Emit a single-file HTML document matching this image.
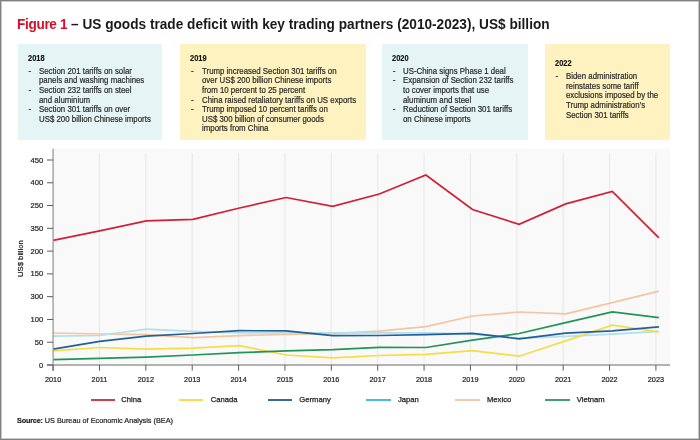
<!DOCTYPE html>
<html><head><meta charset="utf-8">
<style>
*{margin:0;padding:0;box-sizing:border-box}
html,body{width:700px;height:440px;overflow:hidden;background:#fff}
body{position:relative;will-change:transform;font-family:"Liberation Sans",Arial,sans-serif;color:#222}
#frame{position:absolute;left:0;top:0;width:700px;height:440px;border:1px solid #808080;box-shadow:inset 0 0 0 1px #c8c8c8;z-index:10}
.t{position:absolute;white-space:nowrap}
#title{left:16.9px;top:14.38px;font-size:14.2px;font-weight:700;color:#1a1a1a;line-height:20px;transform:scaleX(0.962);transform-origin:0 0}
#title .r{color:#d7102a;letter-spacing:-0.37px}
.box{position:absolute;top:43.6px;height:96.6px}
.blue{background:#e5f4f5}
.yel{background:#fef2c0}
.h{font-size:8.4px;font-weight:700;color:#111;line-height:9.62px;-webkit-text-stroke:0.15px #111;transform:scaleX(0.89);transform-origin:0 0}
.bt,.bl{font-size:8.2px;line-height:9.62px;color:#2a2a2a;-webkit-text-stroke:0.2px #2a2a2a}
.bt{transform:scaleX(0.96);transform-origin:0 0}
.chart{position:absolute;left:0;top:0}
.ax{font-size:6.9px;fill:#222;font-family:"Liberation Sans",Arial,sans-serif}
.ay{font-size:7.6px;stroke:#222;stroke-width:0.2px}
.axx{font-size:7.3px;stroke:#222;stroke-width:0.2px}
.ayt{font-size:7.7px;stroke:#222;stroke-width:0.22px}
.leg{font-size:7.65px;color:#222;line-height:9px;-webkit-text-stroke:0.25px #222}
.legl{position:absolute;top:399.05px;height:1.5px;width:24.4px}
#src{left:17px;top:416.37px;font-size:7.3px;line-height:9px;color:#222;-webkit-text-stroke:0.2px #222}
#src b{letter-spacing:-0.2px}
</style></head><body>
<div id="frame"></div>
<div class="t" id="title"><span class="r">Figure 1</span> – US goods trade deficit with key trading partners (2010-2023), US$ billion</div>
<div class="box blue" style="left:17.5px;width:144.00px"></div>
<div class="h t" style="left:27.6px;top:53.68px">2018</div>
<div class="bl t" style="left:28.6px;top:66.65px">-</div>
<div class="bt t" style="left:39.1px;top:66.65px">Section 201 tariffs on solar</div>
<div class="bt t" style="left:39.1px;top:76.27px">panels and washing machines</div>
<div class="bl t" style="left:28.6px;top:85.89px">-</div>
<div class="bt t" style="left:39.1px;top:85.89px">Section 232 tariffs on steel</div>
<div class="bt t" style="left:39.1px;top:95.51px">and aluminium</div>
<div class="bl t" style="left:28.6px;top:105.13px">-</div>
<div class="bt t" style="left:39.1px;top:105.13px">Section 301 tariffs on over</div>
<div class="bt t" style="left:39.1px;top:114.75px">US$ 200 billion Chinese imports</div>
<div class="box yel" style="left:179.5px;width:186.50px"></div>
<div class="h t" style="left:189.7px;top:53.68px">2019</div>
<div class="bl t" style="left:190.9px;top:66.65px">-</div>
<div class="bt t" style="left:201.7px;top:66.65px">Trump increased Section 301 tariffs on</div>
<div class="bt t" style="left:201.7px;top:76.27px">over US$ 200 billion Chinese imports</div>
<div class="bt t" style="left:201.7px;top:85.89px">from 10 percent to 25 percent</div>
<div class="bl t" style="left:190.9px;top:95.51px">-</div>
<div class="bt t" style="left:201.7px;top:95.51px">China raised retaliatory tariffs on US exports</div>
<div class="bl t" style="left:190.9px;top:105.13px">-</div>
<div class="bt t" style="left:201.7px;top:105.13px">Trump imposed 10 percent tariffs on</div>
<div class="bt t" style="left:201.7px;top:114.75px">US$ 300 billion of consumer goods</div>
<div class="bt t" style="left:201.7px;top:124.37px">imports from China</div>
<div class="box blue" style="left:382px;width:145.50px"></div>
<div class="h t" style="left:392.3px;top:53.68px">2020</div>
<div class="bl t" style="left:392.7px;top:66.65px">-</div>
<div class="bt t" style="left:403.4px;top:66.65px">US-China signs Phase 1 deal</div>
<div class="bl t" style="left:392.7px;top:76.27px">-</div>
<div class="bt t" style="left:403.4px;top:76.27px">Expansion of Section 232 tariffs</div>
<div class="bt t" style="left:403.4px;top:85.89px">to cover imports that use</div>
<div class="bt t" style="left:403.4px;top:95.51px">aluminum and steel</div>
<div class="bl t" style="left:392.7px;top:105.13px">-</div>
<div class="bt t" style="left:403.4px;top:105.13px">Reduction of Section 301 tariffs</div>
<div class="bt t" style="left:403.4px;top:114.75px">on Chinese imports</div>
<div class="box yel" style="left:544.5px;width:125.50px"></div>
<div class="h t" style="left:554.7px;top:58.88px">2022</div>
<div class="bl t" style="left:555.5px;top:72.25px">-</div>
<div class="bt t" style="left:565.9px;top:72.25px">Biden administration</div>
<div class="bt t" style="left:565.9px;top:81.87px">reinstates some tariff</div>
<div class="bt t" style="left:565.9px;top:91.49px">exclusions imposed by the</div>
<div class="bt t" style="left:565.9px;top:101.11px">Trump administration’s</div>
<div class="bt t" style="left:565.9px;top:110.73px">Section 301 tariffs</div>
<svg class="chart" width="700" height="440" viewBox="0 0 700 440">
<rect x="53.5" y="148.5" width="616.5" height="216.5" fill="#f9f9f9"/>
<line x1="99.47" y1="153" x2="99.47" y2="365" stroke="#e8e8e8" stroke-width="1.1"/>
<line x1="145.84" y1="153" x2="145.84" y2="365" stroke="#e8e8e8" stroke-width="1.1"/>
<line x1="192.21" y1="153" x2="192.21" y2="365" stroke="#e8e8e8" stroke-width="1.1"/>
<line x1="238.58" y1="153" x2="238.58" y2="365" stroke="#e8e8e8" stroke-width="1.1"/>
<line x1="284.95" y1="153" x2="284.95" y2="365" stroke="#e8e8e8" stroke-width="1.1"/>
<line x1="331.32" y1="153" x2="331.32" y2="365" stroke="#e8e8e8" stroke-width="1.1"/>
<line x1="377.69" y1="153" x2="377.69" y2="365" stroke="#e8e8e8" stroke-width="1.1"/>
<line x1="424.06" y1="153" x2="424.06" y2="365" stroke="#e8e8e8" stroke-width="1.1"/>
<line x1="470.43" y1="153" x2="470.43" y2="365" stroke="#e8e8e8" stroke-width="1.1"/>
<line x1="516.80" y1="153" x2="516.80" y2="365" stroke="#e8e8e8" stroke-width="1.1"/>
<line x1="563.17" y1="153" x2="563.17" y2="365" stroke="#e8e8e8" stroke-width="1.1"/>
<line x1="609.54" y1="153" x2="609.54" y2="365" stroke="#e8e8e8" stroke-width="1.1"/>
<line x1="655.91" y1="153" x2="655.91" y2="365" stroke="#e8e8e8" stroke-width="1.1"/>
<polyline points="53.10,333.00 99.70,334.00 146.30,334.60 192.90,337.60 239.50,335.70 286.10,334.30 332.70,333.60 379.30,331.10 425.90,326.70 472.50,316.00 519.10,312.00 565.70,313.90 612.30,302.70 658.90,291.10" fill="none" stroke="#f5c4a0" stroke-width="1.7" stroke-linejoin="miter"/>
<polyline points="53.10,336.20 99.70,335.50 146.30,329.20 192.90,331.30 239.50,332.80 286.10,332.80 332.70,332.80 379.30,332.80 425.90,332.90 472.50,334.20 519.10,338.20 565.70,336.40 612.30,334.20 658.90,331.40" fill="none" stroke="#b2dfe9" stroke-width="1.7" stroke-linejoin="miter"/>
<polyline points="53.10,350.90 99.70,347.50 146.30,349.20 192.90,348.20 239.50,345.60 286.10,355.00 332.70,357.80 379.30,355.50 425.90,354.40 472.50,350.60 519.10,356.20 565.70,340.90 612.30,325.10 658.90,331.80" fill="none" stroke="#f7dc45" stroke-width="1.7" stroke-linejoin="miter"/>
<polyline points="53.10,359.70 99.70,358.40 146.30,357.20 192.90,355.00 239.50,352.70 286.10,350.90 332.70,349.70 379.30,347.30 425.90,347.50 472.50,340.20 519.10,333.50 565.70,322.70 612.30,311.80 658.90,317.70" fill="none" stroke="#22945a" stroke-width="1.7" stroke-linejoin="miter"/>
<polyline points="53.10,349.20 99.70,341.30 146.30,336.20 192.90,333.50 239.50,330.70 286.10,330.80 332.70,335.70 379.30,335.50 425.90,334.60 472.50,333.30 519.10,338.80 565.70,333.20 612.30,330.80 658.90,326.80" fill="none" stroke="#22609a" stroke-width="1.7" stroke-linejoin="miter"/>
<polyline points="53.10,240.40 99.70,230.90 146.30,220.90 192.90,219.40 239.50,208.00 286.10,197.50 332.70,206.30 379.30,194.00 425.90,175.00 472.50,209.50 519.10,224.30 565.70,203.90 612.30,191.40 658.90,237.80" fill="none" stroke="#cf2037" stroke-width="1.7" stroke-linejoin="miter"/>
<line x1="53.1" y1="148.8" x2="53.1" y2="371" stroke="#9a9a9a" stroke-width="1.3"/>
<line x1="47" y1="365" x2="670" y2="365" stroke="#9a9a9a" stroke-width="1.3"/>
<line x1="47" y1="160.00" x2="53" y2="160.00" stroke="#5a5a5a" stroke-width="1"/>
<text class="ax ay" x="43.2" y="162.60" text-anchor="end">450</text>
<line x1="47" y1="182.78" x2="53" y2="182.78" stroke="#5a5a5a" stroke-width="1"/>
<text class="ax ay" x="43.2" y="185.38" text-anchor="end">400</text>
<line x1="47" y1="205.56" x2="53" y2="205.56" stroke="#5a5a5a" stroke-width="1"/>
<text class="ax ay" x="43.2" y="208.16" text-anchor="end">250</text>
<line x1="47" y1="228.33" x2="53" y2="228.33" stroke="#5a5a5a" stroke-width="1"/>
<text class="ax ay" x="43.2" y="230.93" text-anchor="end">350</text>
<line x1="47" y1="251.11" x2="53" y2="251.11" stroke="#5a5a5a" stroke-width="1"/>
<text class="ax ay" x="43.2" y="253.71" text-anchor="end">200</text>
<line x1="47" y1="273.89" x2="53" y2="273.89" stroke="#5a5a5a" stroke-width="1"/>
<text class="ax ay" x="43.2" y="276.49" text-anchor="end">150</text>
<line x1="47" y1="296.67" x2="53" y2="296.67" stroke="#5a5a5a" stroke-width="1"/>
<text class="ax ay" x="43.2" y="299.27" text-anchor="end">300</text>
<line x1="47" y1="319.44" x2="53" y2="319.44" stroke="#5a5a5a" stroke-width="1"/>
<text class="ax ay" x="43.2" y="322.04" text-anchor="end">100</text>
<line x1="47" y1="342.22" x2="53" y2="342.22" stroke="#5a5a5a" stroke-width="1"/>
<text class="ax ay" x="43.2" y="344.82" text-anchor="end">50</text>
<line x1="47" y1="365.00" x2="53" y2="365.00" stroke="#5a5a5a" stroke-width="1"/>
<text class="ax ay" x="43.2" y="367.60" text-anchor="end">0</text>
<line x1="53.10" y1="365" x2="53.10" y2="370.6" stroke="#5a5a5a" stroke-width="1"/>
<text class="ax axx" x="53.10" y="382.3" text-anchor="middle">2010</text>
<line x1="99.47" y1="365" x2="99.47" y2="370.6" stroke="#5a5a5a" stroke-width="1"/>
<text class="ax axx" x="99.47" y="382.3" text-anchor="middle">2011</text>
<line x1="145.84" y1="365" x2="145.84" y2="370.6" stroke="#5a5a5a" stroke-width="1"/>
<text class="ax axx" x="145.84" y="382.3" text-anchor="middle">2012</text>
<line x1="192.21" y1="365" x2="192.21" y2="370.6" stroke="#5a5a5a" stroke-width="1"/>
<text class="ax axx" x="192.21" y="382.3" text-anchor="middle">2013</text>
<line x1="238.58" y1="365" x2="238.58" y2="370.6" stroke="#5a5a5a" stroke-width="1"/>
<text class="ax axx" x="238.58" y="382.3" text-anchor="middle">2014</text>
<line x1="284.95" y1="365" x2="284.95" y2="370.6" stroke="#5a5a5a" stroke-width="1"/>
<text class="ax axx" x="284.95" y="382.3" text-anchor="middle">2015</text>
<line x1="331.32" y1="365" x2="331.32" y2="370.6" stroke="#5a5a5a" stroke-width="1"/>
<text class="ax axx" x="331.32" y="382.3" text-anchor="middle">2016</text>
<line x1="377.69" y1="365" x2="377.69" y2="370.6" stroke="#5a5a5a" stroke-width="1"/>
<text class="ax axx" x="377.69" y="382.3" text-anchor="middle">2017</text>
<line x1="424.06" y1="365" x2="424.06" y2="370.6" stroke="#5a5a5a" stroke-width="1"/>
<text class="ax axx" x="424.06" y="382.3" text-anchor="middle">2018</text>
<line x1="470.43" y1="365" x2="470.43" y2="370.6" stroke="#5a5a5a" stroke-width="1"/>
<text class="ax axx" x="470.43" y="382.3" text-anchor="middle">2019</text>
<line x1="516.80" y1="365" x2="516.80" y2="370.6" stroke="#5a5a5a" stroke-width="1"/>
<text class="ax axx" x="516.80" y="382.3" text-anchor="middle">2020</text>
<line x1="563.17" y1="365" x2="563.17" y2="370.6" stroke="#5a5a5a" stroke-width="1"/>
<text class="ax axx" x="563.17" y="382.3" text-anchor="middle">2021</text>
<line x1="609.54" y1="365" x2="609.54" y2="370.6" stroke="#5a5a5a" stroke-width="1"/>
<text class="ax axx" x="609.54" y="382.3" text-anchor="middle">2022</text>
<line x1="655.91" y1="365" x2="655.91" y2="370.6" stroke="#5a5a5a" stroke-width="1"/>
<text class="ax axx" x="655.91" y="382.3" text-anchor="middle">2023</text>
<text class="ax ayt" transform="translate(22.9,258.6) rotate(-90)" text-anchor="middle">US$ billion</text>
</svg>
<div class="legl" style="left:90.6px;background:#d73c4a"></div>
<div class="leg t" style="left:121.3px;top:394.85px">China</div>
<div class="legl" style="left:178.7px;background:#f6dc55"></div>
<div class="leg t" style="left:210.7px;top:394.85px">Canada</div>
<div class="legl" style="left:267.8px;background:#3a6b9e"></div>
<div class="leg t" style="left:299.3px;top:394.85px">Germany</div>
<div class="legl" style="left:366.4px;background:#4fbcd5"></div>
<div class="leg t" style="left:397.9px;top:394.85px">Japan</div>
<div class="legl" style="left:455.4px;background:#f2cbac"></div>
<div class="leg t" style="left:487px;top:394.85px">Mexico</div>
<div class="legl" style="left:545.2px;background:#40a070"></div>
<div class="leg t" style="left:576.8px;top:394.85px">Vietnam</div>
<div class="t" id="src"><b>Source:</b> US Bureau of Economic Analysis (BEA)</div>
</body></html>
